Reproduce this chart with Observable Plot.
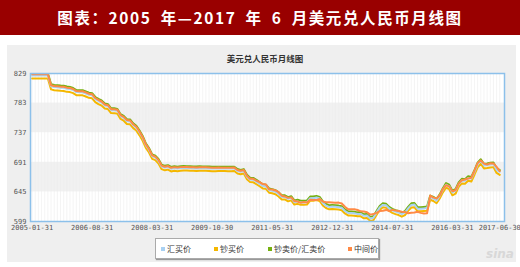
<!DOCTYPE html>
<html><head><meta charset="utf-8">
<script src="https://cdn.jsdelivr.net/npm/d3@7"></script>
<script src="https://cdn.jsdelivr.net/npm/@observablehq/plot@0.6"></script>
<style>
body{margin:0;width:520px;height:267px;background:#fff;position:relative;overflow:hidden;font-family:"Noto Sans CJK SC",sans-serif}
#title{position:absolute;left:0;top:0;width:520px;height:35px;background:#990000;color:#fff;font-weight:bold;font-size:15.5px;letter-spacing:1.6px;word-spacing:4px;line-height:35px;text-align:center;font-family:"Noto Sans CJK SC";white-space:pre}
#panel{position:absolute;left:7px;top:45px;width:509px;height:217px;background:#efefef}
#sub{position:absolute;left:0;width:530px;top:51px;text-align:center;font-size:8.5px;line-height:14px;color:#333;font-weight:bold}
#chart{position:absolute;left:0;top:65px}
#legend{position:absolute;left:155px;top:238px;width:222px;height:19px;background:#fff;border:1px solid #aaa;box-shadow:1px 1px 1px #999}
.item{position:absolute;top:0;line-height:19px;font-size:8px;color:#333;white-space:nowrap}
.sw{display:inline-block;width:4px;height:4px;margin-right:2px;vertical-align:middle;position:relative;top:-1px}
#sina{position:absolute;left:486px;top:247px;font:italic bold 12px "DejaVu Sans";color:#d8d8d8}
</style></head><body>
<div id="title">图表：2005 年—2017 年 6 月美元兑人民币月线图</div>
<div id="panel"></div>
<div id="sub">美元兑人民币月线图</div>
<div id="chart"></div>
<div id="legend"></div>
<div id="sina">sina</div>
<script>
// Monthly points 2005-01 .. 2017-06 (one month absent in 2015), RMB per 100 USD
const xTickIndex = [0, 19, 38, 57, 76, 95, 114, 133, 148];
const xTickLabels = ["2005-01-31","2006-08-31","2008-03-31","2009-10-30","2011-05-31","2012-12-31","2014-07-31","2016-03-31","2017-06-30"];
const yTicks = [599, 645, 691, 737, 783, 829];

const seriesNames = ["汇买价", "钞买价", "钞卖价/汇卖价", "中间价"];
const seriesColors = ["#a9d1f2", "#f4b700", "#76b010", "#ff8a45"];

const huiMai = [
826.0,826.0,826.0,826.0,826.0,826.0,809.2,807.9,807.6,807.0,806.8,805.4,
804.9,803.3,800.1,799.9,799.9,798.0,796.0,795.2,789.3,786.3,783.9,779.3,
778.3,772.0,771.9,771.0,762.8,760.1,755.1,754.5,748.6,744.8,737.4,729.0,
717.6,710.5,700.5,698.5,693.3,684.5,682.7,683.8,681.0,682.1,681.4,682.1,
682.4,682.2,682.0,681.8,681.5,681.9,681.8,681.8,681.5,681.2,681.3,681.4,
681.3,681.3,681.2,681.2,681.4,677.7,676.4,677.6,668.7,664.2,663.9,660.9,
657.7,654.3,653.7,647.7,646.7,645.2,641.7,637.2,637.2,634.2,635.7,629.2,
630.2,628.7,628.7,629.2,635.2,635.2,636.2,634.7,627.7,623.7,621.7,622.2,
621.8,621.3,620.3,615.3,612.3,612.3,611.8,610.8,610.8,607.8,608.3,603.8,
604.8,612.8,620.8,624.8,624.3,619.3,616.3,614.3,612.8,610.3,612.8,619.3,
624.8,625.3,618.8,618.8,619.3,619.8,636.8,634.8,631.3,638.8,648.3,
656.2,653.7,644.2,646.7,657.2,662.7,662.2,666.7,665.7,676.2,687.7,693.2,
686.2,686.7,687.7,688.2,679.2,676.2];

const chaoMai = [
821.2,821.2,821.2,821.2,821.2,821.2,804.3,803.0,802.7,802.1,801.9,800.5,
800.1,798.5,795.3,795.1,795.1,793.2,791.2,790.4,784.5,781.5,779.1,774.5,
773.8,767.5,767.4,766.5,758.3,755.6,750.6,750.0,744.1,740.3,732.9,724.5,
713.4,706.3,696.3,694.3,689.1,680.3,678.5,679.6,676.8,677.9,677.2,677.9,
678.3,678.1,677.9,677.7,677.4,677.8,677.7,677.7,677.4,677.1,677.2,677.3,
677.3,677.3,677.2,677.2,677.4,673.7,672.4,673.6,664.7,660.2,659.9,656.9,
653.8,650.4,649.8,643.8,642.8,641.3,637.8,633.3,633.3,630.3,631.8,625.3,
626.4,624.9,624.9,625.4,631.4,631.4,632.4,630.9,623.9,619.9,617.9,618.4,
618.0,617.5,616.5,611.5,608.5,608.5,608.0,607.0,607.0,604.0,604.5,600.0,
601.0,609.0,617.0,621.0,620.5,615.5,612.5,610.5,609.0,606.5,609.0,615.5,
620.8,621.3,614.8,614.8,615.3,615.8,632.8,630.8,627.3,634.8,644.3,
651.7,649.2,639.7,642.2,652.7,658.2,657.7,662.2,661.2,671.7,683.2,688.7,
681.5,682.0,683.0,683.5,674.5,671.5];

const chaoMaiChu = [
829.3,829.3,829.3,829.3,829.3,829.3,812.5,811.2,810.9,810.3,810.1,808.7,
808.1,806.5,803.3,803.1,803.1,801.2,799.2,798.4,792.5,789.5,787.1,782.5,
781.3,775.0,774.9,774.0,765.8,763.1,758.1,757.5,751.6,747.8,740.4,732.0,
720.4,713.3,703.3,701.3,696.1,687.3,685.5,686.6,683.8,684.9,684.2,684.9,
685.2,685.0,684.8,684.6,684.3,684.7,684.6,684.6,684.3,684.0,684.1,684.2,
684.1,684.1,684.0,684.0,684.2,680.5,679.2,680.4,671.5,667.0,666.7,663.7,
660.3,656.9,656.3,650.3,649.3,647.8,644.3,639.8,639.8,636.8,638.3,631.8,
632.8,631.3,631.3,631.8,637.8,637.8,638.8,637.3,630.3,626.3,624.3,624.8,
624.2,623.7,622.7,617.7,614.7,614.7,614.2,613.2,613.2,610.2,610.7,606.2,
607.2,615.2,623.2,627.2,626.7,621.7,618.7,616.7,615.2,612.7,615.2,621.7,
627.2,627.7,621.2,621.2,621.7,622.2,639.2,637.2,633.7,641.2,650.7,
658.8,656.3,646.8,649.3,659.8,665.3,664.8,669.3,668.3,678.8,690.3,695.8,
688.8,689.3,690.3,690.8,681.8,678.8];

const zhongJian = [
827.65,827.65,827.65,827.65,827.65,827.65,810.8,809.5,809.2,808.6,808.4,807.0,
806.5,804.9,801.7,801.5,801.5,799.6,797.6,796.8,790.9,787.9,785.5,780.9,
779.8,773.5,773.4,772.5,764.3,761.6,756.6,756.0,750.1,746.3,738.9,730.5,
719.0,711.9,701.9,699.9,694.7,685.9,684.1,685.2,682.4,683.5,682.8,683.5,
683.8,683.6,683.4,683.2,682.9,683.3,683.2,683.2,682.9,682.6,682.7,682.8,
682.7,682.7,682.6,682.6,682.8,679.1,677.8,679.0,670.1,665.6,665.3,662.3,
660.3,657.1,656.4,649.0,648.7,647.2,644.5,639.1,638.0,635.7,636.5,630.9,
630.0,628.1,629.4,628.4,632.9,632.5,632.3,634.0,630.2,629.0,628.8,628.6,
628.3,628.4,626.9,621.9,617.9,617.9,617.9,616.9,614.8,614.6,613.4,609.7,
610.5,612.4,615.2,615.6,617.0,615.3,617.1,616.0,615.3,614.3,613.9,611.9,
612.5,613.1,614.2,612.4,611.4,611.7,639.4,636.1,634.9,639.5,649.4,
655.4,653.5,646.1,647.6,657.9,663.1,664.3,665.9,667.0,677.9,689.9,693.7,
688.9,687.5,689.5,689.3,683.9,677.4];

const seriesValues = [huiMai, chaoMai, chaoMaiChu, zhongJian];
const drawOrder = [1, 2, 0, 3];

const rows = [];
for (const s of drawOrder) {
  seriesValues[s].forEach((v, i) => rows.push({i, v, s: seriesNames[s]}));
}
const idx = d3.range(zhongJian.length);
const xDomain = [-0.5, zhongJian.length + 0.5];
const bands = [];
for (let k = 1; k + 1 < yTicks.length; k += 2) bands.push({y1: yTicks[k], y2: yTicks[k + 1]});
const labelOf = new Map(xTickIndex.map((t, k) => [t, xTickLabels[k]]));

const plot = Plot.plot({
  width: 520, height: 180,
  marginTop: 8, marginBottom: 24, marginLeft: 30, marginRight: 16,
  style: {background: "transparent", fontFamily: "DejaVu Sans Mono", fontSize: "7px", color: "#555"},
  x: {domain: xDomain, axis: null},
  y: {domain: [yTicks[0], yTicks[yTicks.length - 1]], axis: null},
  color: {domain: seriesNames, range: seriesColors},
  marks: [
    Plot.frame({fill: "#fff", stroke: null}),
    Plot.rect(bands, {x1: xDomain[0], x2: xDomain[1], y1: "y1", y2: "y2", fill: "#f1f1f1"}),
    Plot.ruleX(idx, {x: d => d, stroke: "#ececec", strokeWidth: 0.6}),
    Plot.line(rows, {x: "i", y: "v", z: "s", stroke: "s", strokeWidth: 2, clip: true, curve: "linear"}),
    Plot.frame({stroke: "#8cc0ea", strokeWidth: 1.5}),
    Plot.axisY({ticks: yTicks, tickSize: 0, tickPadding: 4, tickFormat: d => String(d), fill: "#555", label: null}),
    Plot.axisX({ticks: xTickIndex, tickSize: 0, tickPadding: 4, tickFormat: d => labelOf.get(d), fill: "#555", label: null})
  ]
});
document.getElementById("chart").appendChild(plot);

const legendX = [5, 58, 112, 192];
const leg = document.getElementById("legend");
seriesNames.forEach((n, k) => {
  const it = document.createElement("div");
  it.className = "item";
  it.style.left = legendX[k] + "px";
  it.innerHTML = `<span class="sw" style="background:${seriesColors[k]}"></span>${n}`;
  leg.appendChild(it);
});
</script>
</body></html>
